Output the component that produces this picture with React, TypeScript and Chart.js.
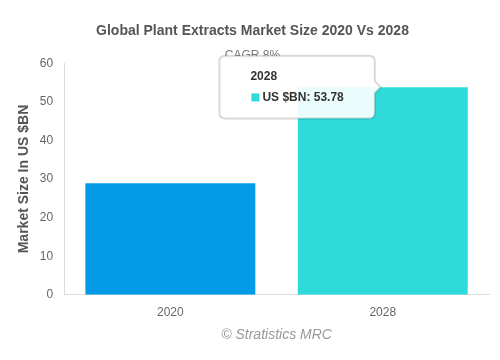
import React, { useEffect, useRef } from "react";
import { Chart, registerables } from "chart.js";

Chart.register(...registerables);

const categories = ["2020", "2028"];
const marketSize = [28.9, 53.78];
const barColors = ["#039be5", "#2edbdb"];
const seriesLabel = "US $BN";
const titleText = "Global Plant Extracts Market Size 2020 Vs 2028";
const subtitleText = "CAGR 8%";
const yTitle = "Market Size In US $BN";
const xTitle = "© Stratistics MRC";

const FONT = "'Liberation Sans', Arial, sans-serif";

export default function App() {
  const ref = useRef<HTMLCanvasElement>(null);
  useEffect(() => {
    document.body.style.margin = "0";
    const chart = new Chart(ref.current!, {
      type: "bar",
      data: {
        labels: categories,
        datasets: [
          {
            label: seriesLabel,
            data: marketSize,
            backgroundColor: barColors,
            barPercentage: 0.8,
            categoryPercentage: 1,
          },
        ],
      },
      options: {
        animation: false,
        responsive: false,
        layout: { padding: { left: 16, right: 11, bottom: 16, top: 0 } },
        plugins: {
          legend: { display: false },
          title: {
            display: true,
            text: titleText,
            color: "#555",
            font: { family: FONT, size: 14, weight: "bold" },
            padding: { top: 23, bottom: 9 },
          },
          subtitle: {
            display: true,
            text: subtitleText,
            color: "#777",
            font: { family: FONT, size: 12 },
            padding: { top: 0, bottom: 0 },
          },
          tooltip: {
            enabled: true,
            backgroundColor: "rgba(255,255,255,0.9)",
            borderColor: "rgba(0,0,0,0.15)",
            borderWidth: 2,
            cornerRadius: 6,
            titleColor: "#333",
            bodyColor: "#333",
            titleFont: { family: FONT, size: 12, weight: "bold" },
            bodyFont: { family: FONT, size: 12, weight: "bold" },
            padding: { top: 14, bottom: 14, left: 31, right: 31 },
            titleMarginBottom: 6,
            caretSize: 6,
            boxWidth: 10,
            boxHeight: 10,
            xAlign: "right",
            yAlign: "center",
            callbacks: {
              labelColor: (ctx: any) => ({
                borderColor: "#fff",
                backgroundColor: barColors[ctx.dataIndex],
                borderWidth: 0,
              }),
            },
          },
        },
        scales: {
          x: {
            grid: { display: false, drawTicks: false },
            border: { display: true, color: "#ddd" },
            ticks: { color: "#666", font: { family: FONT, size: 12 }, padding: 11 },
            title: {
              display: true,
              text: xTitle,
              color: "#999",
              font: { family: FONT, size: 14, style: "italic" },
              padding: { top: -4, bottom: 0 },
            },
          },
          y: {
            min: 0,
            max: 60,
            grid: { display: false, drawTicks: false },
            border: { display: true, color: "#ddd" },
            ticks: { stepSize: 10, color: "#666", font: { family: FONT, size: 12 }, padding: 11 },
            title: {
              display: true,
              text: yTitle,
              color: "#555",
              font: { family: FONT, size: 14, weight: "bold" },
              padding: { top: 0, bottom: -4 },
            },
          },
        },
      },
    });
    const meta = chart.getDatasetMeta(0);
    const el: any = meta.data[1];
    chart.tooltip!.setActiveElements([{ datasetIndex: 0, index: 1 }], { x: el.x, y: el.y });
    chart.update();
    return () => chart.destroy();
  }, []);
  return (
    <div style={{ position: "fixed", left: 0, top: 0, width: 500, height: 360 }}>
      <canvas ref={ref} width={500} height={360} />
    </div>
  );
}
